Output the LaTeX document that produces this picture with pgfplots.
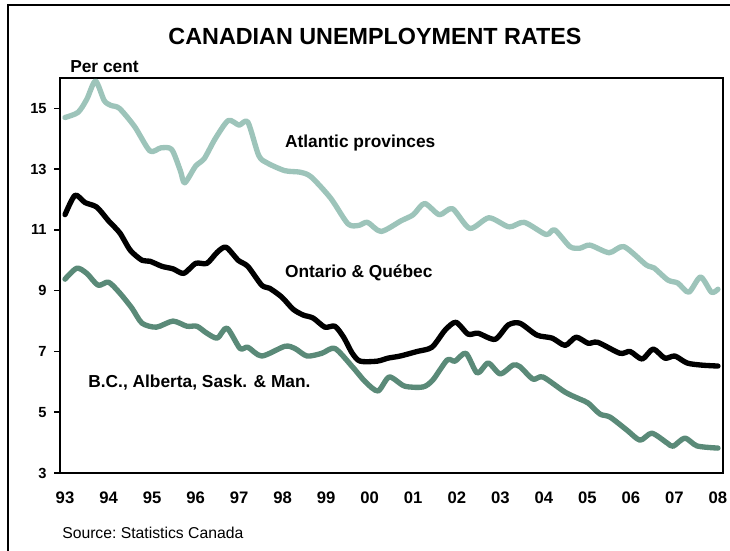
\documentclass[border=0pt]{standalone}
\usepackage{pgfplots}
\pgfplotsset{compat=1.18}
\usepackage{fontspec}
\setmainfont{Liberation Sans}
\definecolor{atl}{RGB}{157,196,186}
\definecolor{west}{RGB}{90,138,120}
\begin{document}
\begin{tikzpicture}
\path[use as bounding box] (-45pt,-57.75pt) rectangle (502.5pt,354.75pt);
\draw[line width=1.5pt] (-39pt,-60pt) -- (-39pt,351pt) -- (505pt,351pt);
\node[font=\bfseries\fontsize{17.5}{20}\selectfont] at (236.25pt,327.75pt) {CANADIAN UNEMPLOYMENT RATES};
\node[font=\bfseries\fontsize{13}{15}\selectfont, anchor=base west, inner sep=0pt] at (7.5pt,300pt) {Per cent};
\node[font=\fontsize{11.8}{14}\selectfont\frenchspacing, anchor=base west, inner sep=0pt] at (1.5pt,-48.75pt) {Source: Statistics Canada};
\begin{axis}[
    at={(0pt,0pt)}, anchor=south west,
    scale only axis,
    width=497.25pt, height=296.25pt,
    xmin=1992.885, xmax=2008.116,
    ymin=3, ymax=16,
    xtick={1993,1994,1995,1996,1997,1998,1999,2000,2001,2002,2003,2004,2005,2006,2007,2008},
    xticklabels={93,94,95,96,97,98,99,00,01,02,03,04,05,06,07,08},
    ytick={3,5,7,9,11,13,15},
    ytick pos=left,
    tick align=outside,
    major tick length=4.5pt,
    xtick style={draw=none},
    ytick style={line width=1.2pt, black},
    axis line style={line width=1.5pt},
    xticklabel style={font=\bfseries\fontsize{12.5}{14}\selectfont, yshift=-6pt},
    yticklabel style={font=\bfseries\fontsize{11}{13}\selectfont, xshift=-2pt},
    /pgf/number format/assume math mode=true,
    every axis plot/.append style={line width=4pt, smooth, tension=0.45, line join=round, line cap=round, no marks},
]
\addplot[atl] coordinates {
(1993.0,14.70) (1993.3,14.87) (1993.5,15.3) (1993.7,15.9) (1993.9,15.26) (1994.05,15.1)
(1994.25,15.0) (1994.6,14.4) (1994.95,13.6) (1995.2,13.7) (1995.45,13.65) (1995.65,12.95)
(1995.75,12.55) (1996.0,13.1) (1996.2,13.35) (1996.45,14.0) (1996.75,14.6) (1997.0,14.45)
(1997.2,14.55) (1997.45,13.45) (1997.65,13.2) (1998.05,12.95) (1998.4,12.9) (1998.65,12.75)
(1999.1,12.05) (1999.5,11.2) (1999.75,11.15) (1999.95,11.25) (2000.26,10.95) (2000.72,11.3)
(2001.0,11.5) (2001.26,11.87) (2001.6,11.5) (2001.9,11.7) (2002.3,11.05) (2002.74,11.4)
(2003.2,11.1) (2003.55,11.25) (2004.05,10.85) (2004.25,11.0) (2004.6,10.45) (2004.83,10.4)
(2005.06,10.5) (2005.5,10.25) (2005.84,10.45) (2006.35,9.85) (2006.53,9.75) (2006.85,9.35)
(2007.08,9.25) (2007.33,8.95) (2007.6,9.45) (2007.85,8.95) (2008.0,9.05)
};
\addplot[black] coordinates {
(1993.0,11.5) (1993.23,12.14) (1993.46,11.9) (1993.73,11.75) (1994.0,11.3) (1994.26,10.9)
(1994.5,10.33) (1994.77,10.0) (1994.95,9.97) (1995.23,9.8) (1995.48,9.72) (1995.73,9.57)
(1996.0,9.9) (1996.26,9.9) (1996.5,10.27) (1996.7,10.43) (1996.98,10.0) (1997.2,9.8)
(1997.52,9.18) (1997.7,9.08) (1997.98,8.79) (1998.24,8.39) (1998.47,8.2) (1998.7,8.1)
(1998.97,7.8) (1999.2,7.83) (1999.4,7.47) (1999.6,6.94) (1999.78,6.68) (2000.17,6.68)
(2000.42,6.78) (2000.7,6.85) (2001.09,7.0) (2001.43,7.14) (2001.73,7.7) (2001.98,7.96)
(2002.26,7.57) (2002.49,7.6) (2002.88,7.4) (2003.18,7.87) (2003.45,7.93) (2003.84,7.54)
(2004.19,7.44) (2004.49,7.2) (2004.74,7.47) (2005.02,7.27) (2005.24,7.3) (2005.75,6.94)
(2005.98,7.0) (2006.26,6.75) (2006.51,7.08) (2006.78,6.78) (2007.01,6.85) (2007.29,6.62)
(2007.63,6.55) (2008.0,6.52)
};
\addplot[west] coordinates {
(1993.0,9.38) (1993.27,9.74) (1993.5,9.57) (1993.76,9.18) (1994.0,9.28) (1994.26,8.92)
(1994.54,8.42) (1994.77,7.93) (1995.1,7.8) (1995.48,8.0) (1995.8,7.83) (1996.03,7.83)
(1996.26,7.6) (1996.5,7.44) (1996.72,7.77) (1997.02,7.1) (1997.2,7.14) (1997.52,6.85)
(1998.05,7.17) (1998.28,7.1) (1998.56,6.85) (1998.9,6.94) (1999.2,7.1) (1999.6,6.5)
(1999.9,6.0) (2000.19,5.7) (2000.45,6.16) (2000.8,5.86) (2001.22,5.83) (2001.45,6.06)
(2001.78,6.72) (2001.96,6.68) (2002.21,6.94) (2002.47,6.29) (2002.72,6.62) (2003.0,6.26)
(2003.29,6.55) (2003.45,6.5) (2003.75,6.09) (2003.98,6.16) (2004.49,5.66) (2004.83,5.43)
(2005.02,5.3) (2005.29,4.94) (2005.52,4.84) (2005.91,4.41) (2006.21,4.08) (2006.48,4.31)
(2006.83,3.99) (2006.97,3.88) (2007.24,4.15) (2007.52,3.89) (2008.0,3.82)
};
\node[font=\bfseries\fontsize{13}{15}\selectfont, anchor=base west, inner sep=0pt] at (axis cs:1998.05,13.72) {Atlantic provinces};
\node[font=\bfseries\fontsize{13}{15}\selectfont, anchor=base west, inner sep=0pt] at (axis cs:1998.05,9.44) {Ontario \& Québec};
\node[font=\bfseries\fontsize{13}{15}\selectfont, anchor=base west, inner sep=0pt] at (axis cs:1993.53,5.80) {B.C., Alberta, Sask. \& Man.};
\end{axis}
\end{tikzpicture}
\end{document}
